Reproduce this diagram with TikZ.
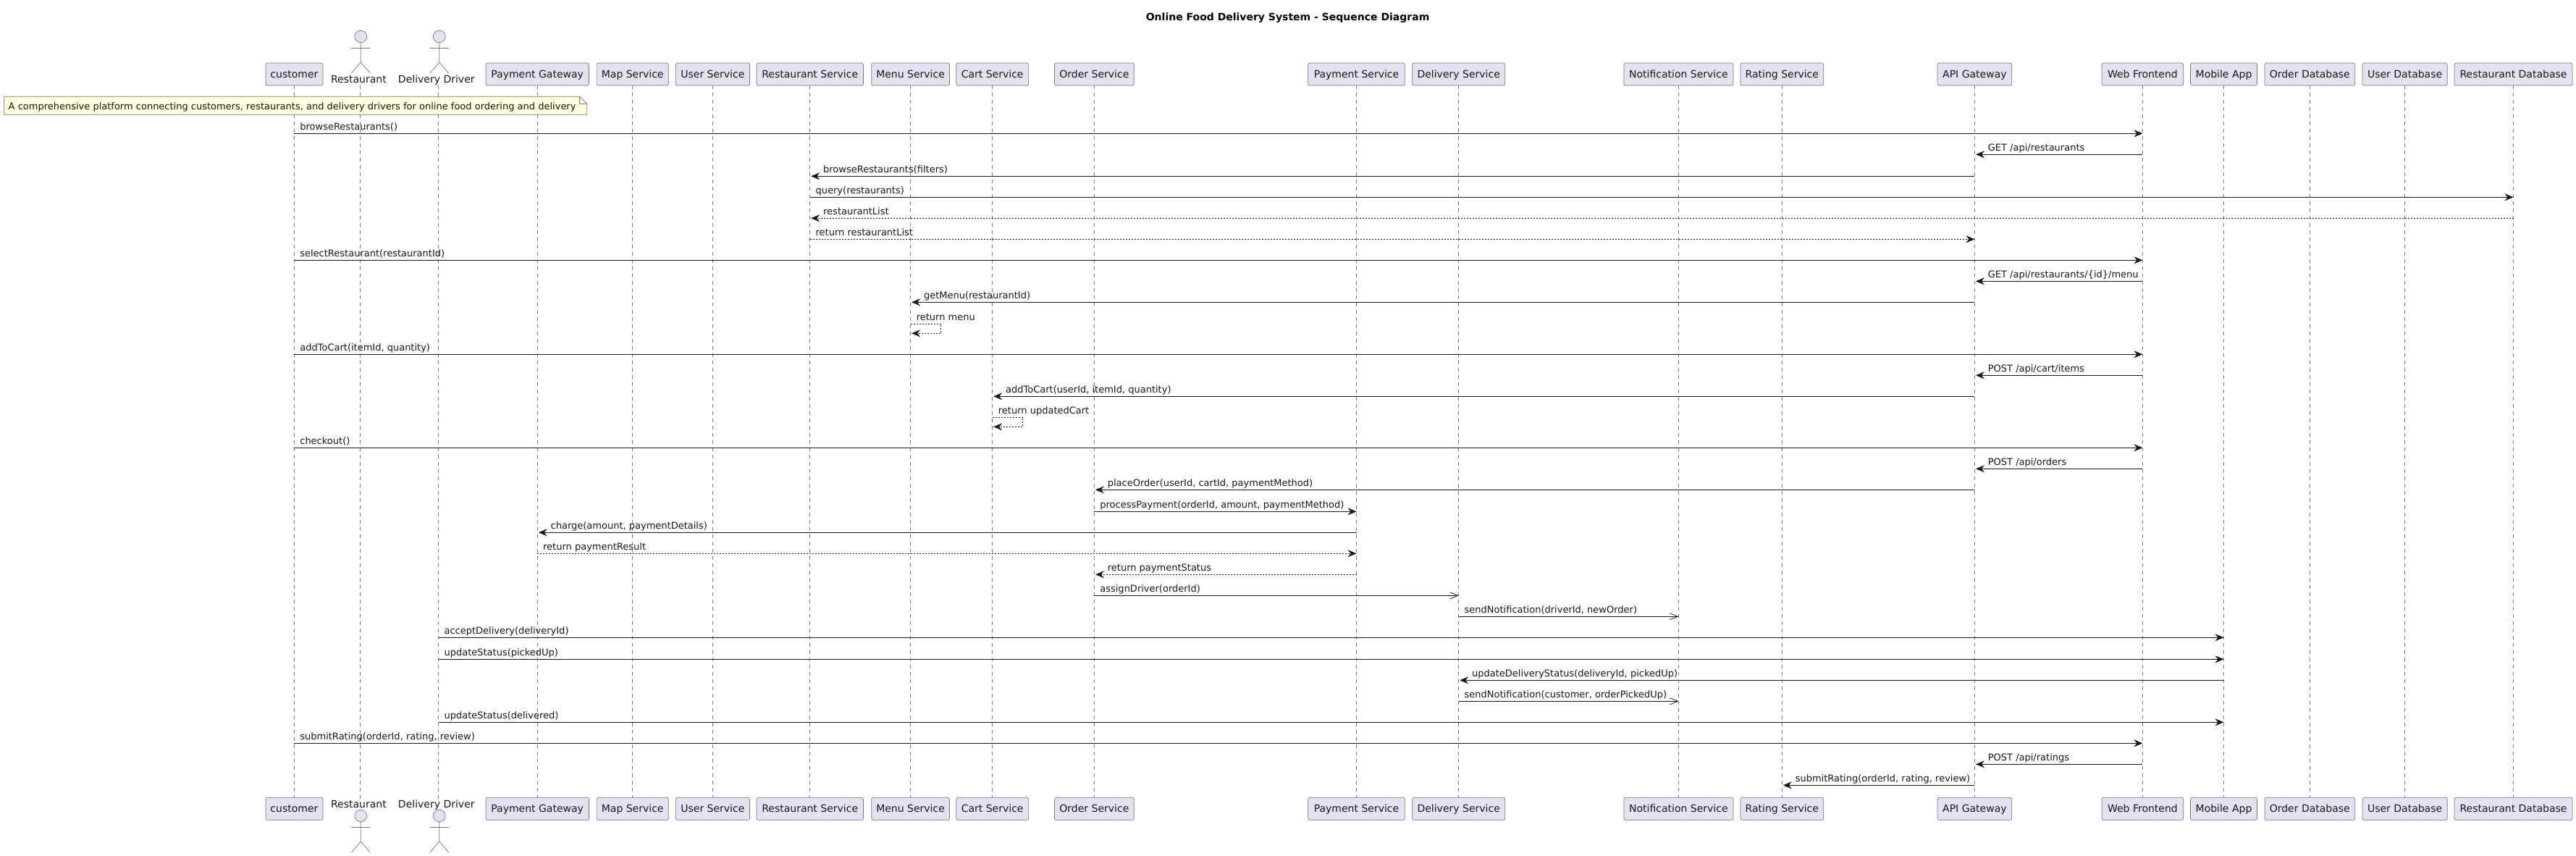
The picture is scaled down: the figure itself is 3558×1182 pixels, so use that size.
\documentclass[tikz,border=0pt]{standalone}
\usepackage{fontspec}
\setmainfont{DejaVu Sans}
\definecolor{seqline}{RGB}{24,24,24}
\definecolor{seqthin}{RGB}{120,120,120}
\definecolor{seqbox}{RGB}{226,226,240}
\definecolor{seqnote}{RGB}{254,255,221}
\usetikzlibrary{arrows.meta,shapes.geometric}

\begin{document}
\begin{tikzpicture}[x=1pt,y=-1pt,
  party/.style={draw=seqthin,line width=0.7pt,fill=seqbox,rounded corners=2.5pt,minimum height=31pt,inner xsep=0pt,inner ysep=0pt,text height=11.2pt,text depth=1.8pt,text=seqline,font=\fontsize{14}{16}\selectfont},
  actorhead/.style={draw=seqthin,line width=0.7pt,fill=seqbox,ellipse,inner sep=0pt,minimum width=17pt,minimum height=16.4pt},
  actorline/.style={draw=seqthin,line width=0.7pt},
  actorname/.style={anchor=base,inner sep=0pt,text=seqline,font=\fontsize{14}{16}\selectfont},
  lifeline/.style={draw=seqthin,line width=0.6pt,dash pattern=on 5pt off 5pt},
  sync/.style={draw=seqline,line width=0.9pt,-{Stealth[length=12pt,width=10pt,inset=4pt]}},
  dsync/.style={sync,dash pattern=on 2pt off 2pt},
  opened/.style={draw=seqline,line width=0.9pt,-{Straight Barb[length=11pt,width=9pt,line width=0.7pt]}},
  fwdtext/.style={pos=0,anchor=base west,xshift=7.5pt,yshift=5pt,inner sep=0pt,text=seqline,font=\fontsize{13}{15}\selectfont},
  backtext/.style={pos=1,anchor=base west,xshift=18pt,yshift=5pt,inner sep=0pt,text=seqline,font=\fontsize{13}{15}\selectfont},
  selftext/.style={anchor=base west,inner sep=0pt,text=seqline,font=\fontsize{13}{15}\selectfont}]
  \useasboundingbox (0,0) rectangle (3558,1182);
  % Title
  \node[anchor=base,inner sep=0pt,text=black,font=\fontsize{14}{16}\selectfont\bfseries] (title) at (1778.6,28.3) {Online Food Delivery System - Sequence Diagram};
  % Participants on top and bottom
  \foreach \nm/\px/\boxw/\txt in {customer/406.4/79/customer,paygate/742.2/142.4/Payment Gateway,map/873.7/99.2/Map Service,
    user/984.4/102.2/User Service,restsvc/1118.7/147.6/Restaurant Service,menu/1257.6/107.9/Menu Service,
    cart/1370.7/99.8/Cart Service,order/1511.4/109.7/Order Service,paysvc/1873.5/133.7/Payment Service,
    delivery/2014.7/128/Delivery Service,notif/2318.4/151/Notification Service,rating/2461.3/114.8/Rating Service,
    api/2727.4/102.7/API Gateway,web/2959.4/112.7/Web Frontend,mobile/3071.5/91.9/Mobile App,
    orderdb/3190.3/124.7/Order Database,userdb/3321.6/117.1/User Database,restdb/3471.5/163/Restaurant Database}{
    \node[party,minimum width=\boxw pt] (\nm) at (\px,102.6) {\txt};
    \node[party,minimum width=\boxw pt] (\nm B) at (\px,1116.8) {\txt};
    \draw[lifeline] (\nm.south) -- (\nm B.north);
  }
  % Actors
  \foreach \nm/\ax/\lx/\lnx/\txt in {restaurant/498.3/497.7/495.4/Restaurant,driver/606.8/605.6/602.8/Delivery Driver}{
    \coordinate (\nm) at (\lx,118);
    \coordinate (\nm B) at (\lx,1102.5);
    \draw[lifeline] (\nm) -- (\nm B);
    \foreach \side/\dy/\ly in {T/0/115,B/1076/1115}{
      \node[actorhead] (\nm-head-\side) at (\ax,50.5+\dy) {};
      \draw[actorline] (\nm-head-\side.south) -- ++(0,27) -- ++(-13,15);
      \draw[actorline] (\nm-head-\side.south) ++(0,27) -- ++(13,15);
      \draw[actorline] (\nm-head-\side.south) ++(-13,7.6) -- ++(26,0);
      \node[actorname] (\nm-name-\side) at (\lnx,\ly) {\txt};
    }
  }
  % Note
  \draw[draw=seqthin,line width=0.7pt,fill=seqnote] (5.7,133.3) -- (800.8,133.3) -- (810.6,143.3) -- (810.6,158.3) -- (5.7,158.3) -- cycle;
  \draw[draw=seqthin,line width=0.7pt] (800.8,133.3) -- (800.8,143.3) -- (810.6,143.3);
  \node[anchor=base,inner sep=0pt,text=seqline,font=\fontsize{13}{15}\selectfont] (note) at (403.6,151.7) {A comprehensive platform connecting customers, restaurants, and delivery drivers for online food ordering and delivery};
  % Messages going right
  \foreach \src/\dst/\yy/\kind/\txt [count=\i] in {customer/web/184.3/sync/browseRestaurants(),
    restsvc/restdb/272.3/sync/query(restaurants),
    restsvc/api/330.3/dsync/return restaurantList,
    customer/web/359.3/sync/selectRestaurant(restaurantId),
    customer/web/489.3/sync/{addToCart(itemId, quantity)},
    customer/web/618.3/sync/checkout(),
    order/paysvc/706.3/sync/{processPayment(orderId, amount, paymentMethod)},
    paygate/paysvc/764.3/dsync/return paymentResult,
    order/delivery/822.3/opened/assignDriver(orderId),
    delivery/notif/851.3/opened/{sendNotification(driverId, newOrder)},
    driver/mobile/880.3/sync/acceptDelivery(deliveryId),
    driver/mobile/910.3/sync/updateStatus(pickedUp),
    delivery/notif/968.3/opened/{sendNotification(customer, orderPickedUp)},
    driver/mobile/997.3/sync/updateStatus(delivered),
    customer/web/1026.3/sync/{submitRating(orderId, rating, review)}}{
    \draw[\kind] (\src |- 0,\yy) -- (\dst |- 0,\yy) node[fwdtext] (fwd\i) {\txt};
  }
  % Messages going left
  \foreach \src/\dst/\yy/\kind/\txt [count=\i] in {web/api/213.3/sync/{GET /api/restaurants},
    api/restsvc/243.3/sync/browseRestaurants(filters),
    restdb/restsvc/301.3/dsync/restaurantList,
    web/api/388.3/sync/{GET /api/restaurants/\{id\}/menu},
    api/menu/417.3/sync/getMenu(restaurantId),
    web/api/518.3/sync/{POST /api/cart/items},
    api/cart/547.3/sync/{addToCart(userId, itemId, quantity)},
    web/api/647.3/sync/{POST /api/orders},
    api/order/676.3/sync/{placeOrder(userId, cartId, paymentMethod)},
    paysvc/paygate/735.3/sync/{charge(amount, paymentDetails)},
    paysvc/order/793.3/dsync/return paymentStatus,
    mobile/delivery/939.3/sync/{updateDeliveryStatus(deliveryId, pickedUp)},
    web/api/1055.3/sync/{POST /api/ratings},
    api/rating/1084.3/sync/{submitRating(orderId, rating, review)}}{
    \draw[\kind,shorten >=1.5pt] (\src |- 0,\yy) -- (\dst |- 0,\yy) node[backtext] (back\i) {\txt};
  }
  % Self messages
  \foreach \nm/\yy/\txt in {menu/447.3/return menu,cart/576.3/return updatedCart}{
    \draw[dsync,shorten >=1.5pt] (\nm |- 0,\yy) -- ++(42,0) -- ++(0,13) -- ++(-42,0);
    \node[selftext] (\nm-self) at ([xshift=8pt,yshift=5pt]\nm |- 0,\yy) {\txt};
  }
\end{tikzpicture}
\end{document}
